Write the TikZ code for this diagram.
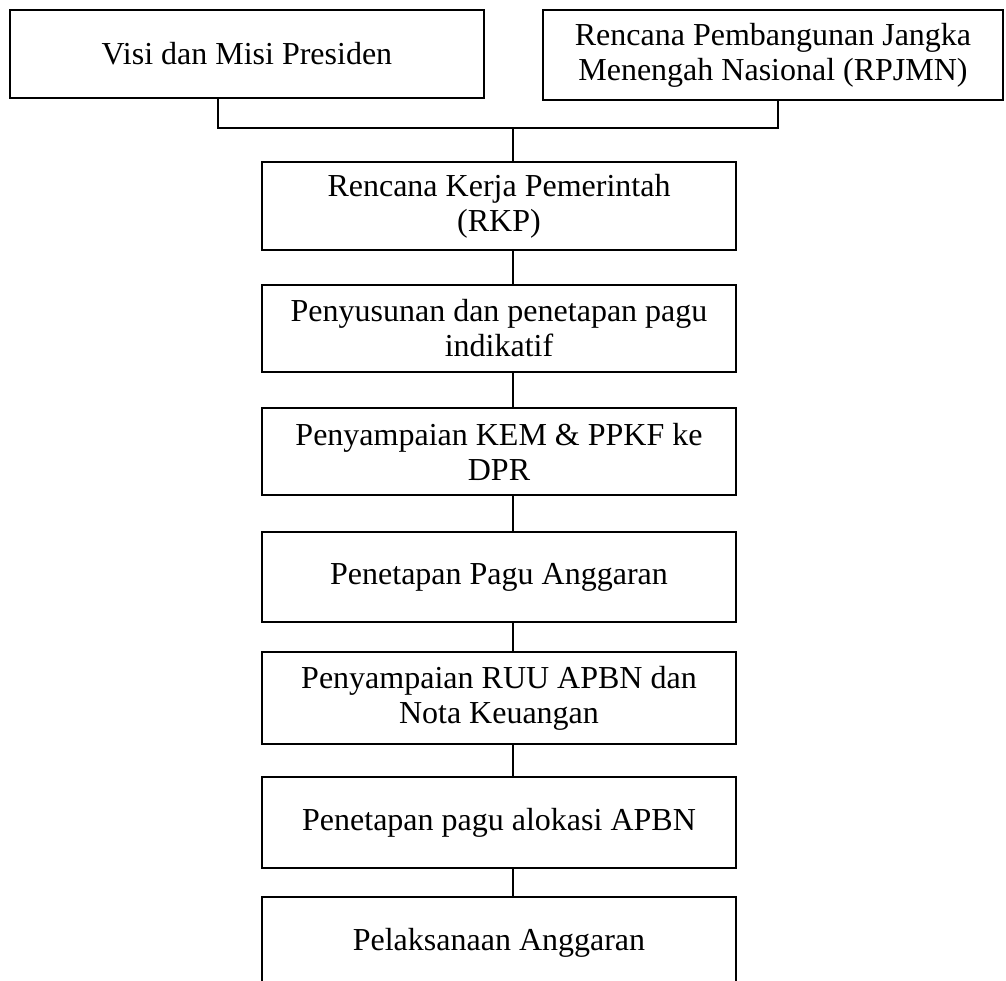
\documentclass[tikz,border=0pt]{standalone}
\usepackage{fontspec}
\setmainfont{Liberation Serif}
\begin{document}
\begin{tikzpicture}[x=0.5pt,y=-0.5pt,
  stepbox/.style={draw=black, line width=1.4pt, fill=white, inner sep=0pt, align=center,
    font=\fontsize{16}{17.5}\selectfont, minimum width=237pt},
  link/.style={draw=black, line width=1.4pt}]
\useasboundingbox (0,0) rectangle (1006,980);
\node[stepbox, minimum height=44pt] (visi) at (247,54) {Visi dan Misi Presiden};
\node[stepbox, minimum width=230pt, minimum height=45pt] (rpjmn) at (773,55) {Rencana Pembangunan Jangka\\Menengah Nasional (RPJMN)};
\node[stepbox, minimum height=44pt] (rkp) at (499,206) {Rencana Kerja Pemerintah\\(RKP)};
\node[stepbox, minimum height=43.5pt] (indikatif) at (499,328.5) {Penyusunan dan penetapan pagu\\indikatif};
\node[stepbox, minimum height=43.5pt] (kem) at (499,451.5) {Penyampaian KEM \& PPKF ke\\DPR};
\node[stepbox, minimum height=45pt] (pagu) at (499,577) {Penetapan Pagu Anggaran};
\node[stepbox, minimum height=46pt] (ruu) at (499,698) {Penyampaian RUU APBN dan\\Nota Keuangan};
\node[stepbox, minimum height=45.5pt] (alokasi) at (499,822.5) {Penetapan pagu alokasi APBN};
\node[stepbox, minimum height=46pt] (pelaksanaan) at (499,943) {Pelaksanaan Anggaran};
\coordinate (spine) at (513,0);
\coordinate (join) at (513,128);
\draw[link] (visi.south -| 218,0) |- (join) -| (rpjmn.south -| 778,0);
\draw[link] (join) -- (rkp.north -| spine);
\draw[link] (rkp.south -| spine) -- (indikatif.north -| spine);
\draw[link] (indikatif.south -| spine) -- (kem.north -| spine);
\draw[link] (kem.south -| spine) -- (pagu.north -| spine);
\draw[link] (pagu.south -| spine) -- (ruu.north -| spine);
\draw[link] (ruu.south -| spine) -- (alokasi.north -| spine);
\draw[link] (alokasi.south -| spine) -- (pelaksanaan.north -| spine);
\end{tikzpicture}
\end{document}
